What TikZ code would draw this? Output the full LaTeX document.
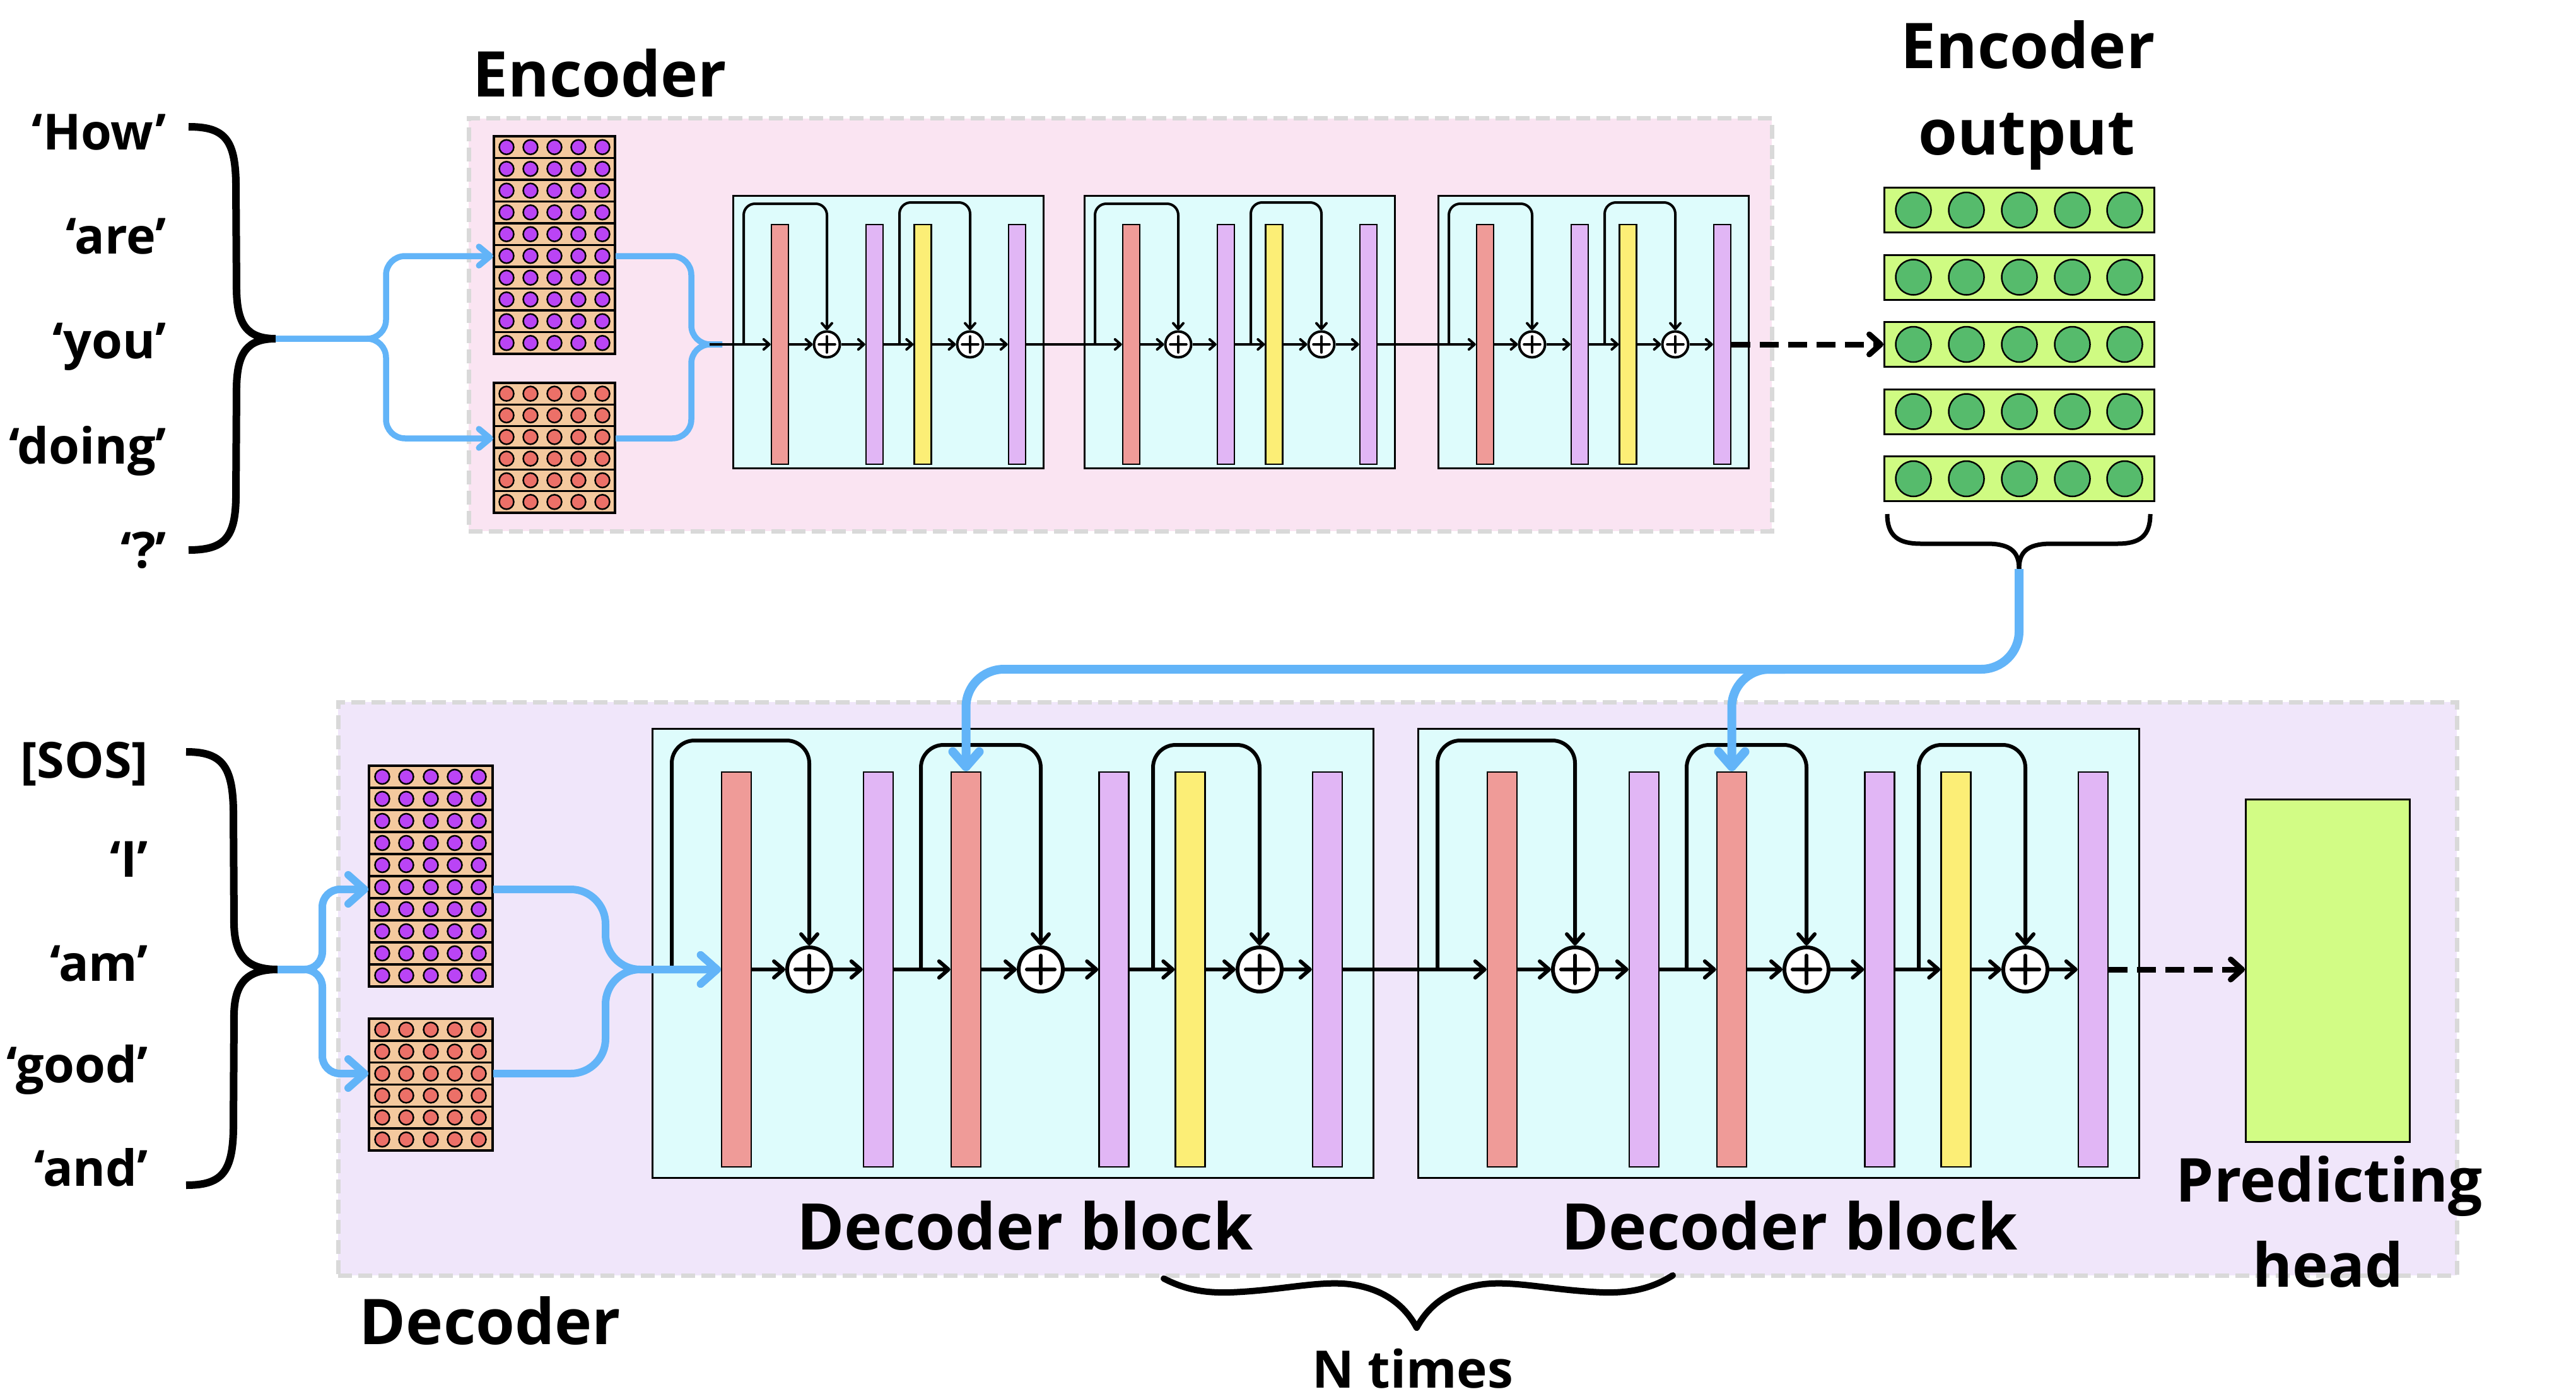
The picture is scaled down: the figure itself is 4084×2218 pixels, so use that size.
\documentclass[tikz,border=0pt]{standalone}
\usepackage{fontspec}
\setmainfont{Open Sans}
\usetikzlibrary{arrows.meta}
\definecolor{encbg}{HTML}{FAE4F2}
\definecolor{decbg}{HTML}{F0E6FA}
\definecolor{dashgray}{HTML}{D9D9D9}
\definecolor{blkbg}{HTML}{DEFCFC}
\definecolor{cred}{HTML}{EF9B98}
\definecolor{cpurp}{HTML}{E1B6F5}
\definecolor{cyel}{HTML}{FCEE76}
\definecolor{ctan}{HTML}{F4C99E}
\definecolor{pdot}{HTML}{BA44F5}
\definecolor{rdot}{HTML}{EC7068}
\definecolor{grow}{HTML}{CFFB82}
\definecolor{gdot}{HTML}{56BB6C}
\definecolor{phead}{HTML}{D2FC85}
\definecolor{cblue}{HTML}{62B4F8}
\tikzset{
  bgbox/.style={draw=dashgray, line width=7pt, dash pattern=on 22pt off 10pt, inner sep=0pt},
  stackpos/.style={draw=none, inner sep=0pt},
  eblk/.style={draw=black, fill=blkbg, line width=2.5pt, minimum width=492pt, minimum height=432pt, inner sep=0pt},
  dblk/.style={draw=black, fill=blkbg, line width=3pt, minimum width=1143pt, minimum height=712pt, inner sep=0pt},
  ebar/.style={draw=black, line width=2.5pt, minimum width=27pt, minimum height=380pt, inner sep=0pt},
  dbar/.style={draw=black, line width=2.5pt, minimum width=47pt, minimum height=626pt, inner sep=0pt},
  eplus/.style={circle, draw=black, fill=white, line width=4pt, minimum size=41pt, inner sep=0pt},
  dplus/.style={circle, draw=black, fill=white, line width=6pt, minimum size=70pt, inner sep=0pt},
  ecross/.style={line width=3.5pt, line cap=round},
  dcross/.style={line width=6pt, line cap=round},
  earr/.style={line width=4pt, -{Straight Barb[length=9pt,width=16pt,round]}},
  darr/.style={line width=6pt, -{Straight Barb[length=15pt,width=26pt,round]}},
  eloop/.style={earr, rounded corners=18pt},
  dloop/.style={darr, rounded corners=36pt},
  edash/.style={line width=9pt, dash pattern=on 30pt off 15pt, -{Straight Barb[length=18pt,width=32pt,round]}},
  blueE/.style={draw=cblue, line width=9.5pt, rounded corners=30pt},
  blueEa/.style={blueE, -{Straight Barb[length=18pt,width=30pt,round]}},
  blueD/.style={draw=cblue, line width=12pt, rounded corners=28pt},
  blueDa/.style={blueD, -{Straight Barb[length=26pt,width=46pt,round]}},
  blueT/.style={draw=cblue, line width=14pt, rounded corners=60pt, -{Straight Barb[length=24pt,width=42pt,round]}},
  embrow/.style={draw=black, fill=ctan, line width=3.5pt},
  embdot/.style={draw=black, line width=2.5pt},
  eorow/.style={draw=black, fill=grow, line width=3pt, minimum width=428pt, minimum height=71pt, inner sep=0pt},
  gdotst/.style={draw=black, fill=gdot, line width=2.5pt},
  phbox/.style={draw=black, fill=phead, line width=3pt, minimum width=260pt, minimum height=543pt, inner sep=0pt},
  bigbrace/.style={line width=12pt},
  lbl/.style={font=\fontsize{100pt}{120pt}\selectfont\bfseries, inner sep=0pt, anchor=base},
  blbl/.style={font=\fontsize{102pt}{120pt}\selectfont\bfseries, inner sep=0pt, anchor=base},
  ntl/.style={font=\fontsize{82pt}{100pt}\selectfont\bfseries, inner sep=0pt, anchor=base},
  phl/.style={font=\fontsize{96pt}{110pt}\selectfont\bfseries, inner sep=0pt, anchor=base},
  word/.style={font=\fontsize{79pt}{90pt}\selectfont\bfseries, inner sep=0pt, anchor=base east}
}
% #1 left x, #2 top y, #3 rows, #4 row height, #5 width, #6 dot colour, #7 dot offsets
\newcommand\embrows[7]{%
  \foreach \i in {1,...,#3}{%
    \draw[embrow] (#1,{#2+(\i-1)*#4}) rectangle ({#1+#5},{#2+\i*#4});
    \foreach \dx in {#7}{\draw[embdot,fill=#6] ({#1+\dx},{#2+(\i-0.5)*#4}) circle[radius=11.5];}
  }}
\newcommand\encblock[2]{%
  \node[eblk] (#1) at ({#2+247.5},526.5) {};
  \node[ebar,fill=cred]  (#1r) at ({#2+75.5},546) {};
  \node[ebar,fill=cpurp] (#1a) at ({#2+225.5},546) {};
  \node[ebar,fill=cyel]  (#1y) at ({#2+302},546) {};
  \node[ebar,fill=cpurp] (#1b) at ({#2+451.5},546) {};
  \node[eplus] (#1p) at ({#2+150},546) {};
  \node[eplus] (#1q) at ({#2+377},546) {};
  \foreach \n in {p,q}{%
    \draw[ecross] ([xshift=-13pt]#1\n.center) -- ([xshift=13pt]#1\n.center);
    \draw[ecross] ([yshift=-13pt]#1\n.center) -- ([yshift=13pt]#1\n.center);}
  \coordinate (#1k1) at ({#2+18},546);
  \coordinate (#1k2) at ({#2+265},546);
  \draw[eloop] (#1k1) -- ({#2+18},323) -- ({#2+150},323) -- (#1p.north);
  \draw[eloop] (#1k2) -- ({#2+265},321) -- ({#2+377},321) -- (#1q.north);
  \draw[earr] (#1r.east) -- (#1p.west);
  \draw[earr] (#1p.east) -- (#1a.west);
  \draw[earr] (#1a.east) -- (#1y.west);
  \draw[earr] (#1y.east) -- (#1q.west);
  \draw[earr] (#1q.east) -- (#1b.west);
}
\newcommand\decblock[2]{%
  \node[dblk] (#1) at ({#2+573},1511.5) {};
  \node[dbar,fill=cred]  (#1r) at ({#2+134.5},1537) {};
  \node[dbar,fill=cpurp] (#1a) at ({#2+359.5},1537) {};
  \node[dbar,fill=cred]  (#1s) at ({#2+498.5},1537) {};
  \node[dbar,fill=cpurp] (#1b) at ({#2+733},1537) {};
  \node[dbar,fill=cyel]  (#1y) at ({#2+854},1537) {};
  \node[dbar,fill=cpurp] (#1c) at ({#2+1071.5},1537) {};
  \node[dplus] (#1p) at ({#2+250},1537) {};
  \node[dplus] (#1q) at ({#2+617},1537) {};
  \node[dplus] (#1u) at ({#2+964},1537) {};
  \foreach \n in {p,q,u}{%
    \draw[dcross] ([xshift=-22pt]#1\n.center) -- ([xshift=22pt]#1\n.center);
    \draw[dcross] ([yshift=-22pt]#1\n.center) -- ([yshift=22pt]#1\n.center);}
  \coordinate (#1k1) at ({#2+32},1537);
  \coordinate (#1k2) at ({#2+427},1537);
  \coordinate (#1k3) at ({#2+795},1537);
  \draw[dloop] (#1k1) -- ({#2+32},1174) -- ({#2+250},1174) -- (#1p.north);
  \draw[dloop] (#1k2) -- ({#2+427},1181) -- ({#2+617},1181) -- (#1q.north);
  \draw[dloop] (#1k3) -- ({#2+795},1181) -- ({#2+964},1181) -- (#1u.north);
  \draw[darr] (#1r.east) -- (#1p.west);
  \draw[darr] (#1p.east) -- (#1a.west);
  \draw[darr] (#1a.east) -- (#1s.west);
  \draw[darr] (#1s.east) -- (#1q.west);
  \draw[darr] (#1q.east) -- (#1b.west);
  \draw[darr] (#1b.east) -- (#1y.west);
  \draw[darr] (#1y.east) -- (#1u.west);
  \draw[darr] (#1u.east) -- (#1c.west);
}
\begin{document}
\begin{tikzpicture}[x=1pt,y=-1pt]
\useasboundingbox (0,0) rectangle (4084,2218);
\fill[white] (0,0) rectangle (4084,2218);
% background boxes
\node[bgbox, fill=encbg, minimum width=2066pt, minimum height=654pt] (encbox) at (1776,515) {};
\node[bgbox, fill=decbg, minimum width=3359pt, minimum height=909pt] (decbox) at (2215.5,1567.5) {};
% embedding stacks
\node[stackpos, minimum width=192pt, minimum height=345pt] (encpos) at (879,388.5) {};
\node[stackpos, minimum width=192pt, minimum height=206pt] (encemb) at (879,710) {};
\node[stackpos, minimum width=196pt, minimum height=350pt] (decpos) at (683,1389) {};
\node[stackpos, minimum width=196pt, minimum height=209pt] (decemb) at (683,1719.5) {};
\embrows{783}{216}{10}{34.5}{192}{pdot}{20,58,96,134,172}
\embrows{783}{607}{6}{34.33}{192}{rdot}{20,58,96,134,172}
\embrows{585}{1214}{10}{35}{196}{pdot}{21,59,98,136,174}
\embrows{585}{1615}{6}{34.83}{196}{rdot}{21,59,98,136,174}
\coordinate (ein1) at (782,406);
\coordinate (ein2) at (782,695);
\coordinate (eout1) at (976,406);
\coordinate (eout2) at (976,695);
\coordinate (emerge) at (1125,546);
\coordinate (din1) at (584,1410);
\coordinate (din2) at (584,1702);
\coordinate (dout1) at (782,1410);
\coordinate (dout2) at (782,1702);
% encoder blue merge
\draw[blueE] (eout1) -- (1096,406) -- (1096,546) -- (1145,546);
\draw[blueE] (eout2) -- (1096,695) -- (1096,546) -- (1145,546);
% encoder blocks
\encblock{e1}{1161}
\encblock{e2}{1718}
\encblock{e3}{2279}
\draw[earr] (emerge) -- (e1r.west);
\draw[earr] (e1b.east) -- (e2r.west);
\draw[earr] (e2b.east) -- (e3r.west);
% encoder output
\foreach \k/\yy in {1/333,2/439.5,3/546,4/652.5,5/759}{%
  \node[eorow] (eo\k) at (3201.5,\yy) {};
  \foreach \dx in {-168,-84,0,84,167}{\draw[gdotst] ({3201.5+\dx},\yy) circle[radius=28];}
}
\draw[edash] (e3b.east) -- (e3b.east -| eo3.west);
\coordinate (eotip) at (3201,902);
\draw[line width=7pt] (2992,815) .. controls (2992,850) and (3010,862) .. (3045,862) -- (3150,862) .. controls (3190,862) and (3201,877) .. (eotip);
\draw[line width=7pt] (eotip) .. controls (3201,877) and (3212,862) .. (3252,862) -- (3357,862) .. controls (3392,862) and (3409,850) .. (3409,815);
% decoder blocks
\decblock{d1}{1033}
\decblock{d2}{2247}
\draw[darr] (d1c.east) -- (d2r.west);
% predicting head
\node[phbox] (ph) at (3690.5,1539) {};
\draw[edash] (d2c.east) -- (d2c.east -| ph.west);
% left braces
\coordinate (ebt) at (437,537);
\coordinate (dbt) at (440,1537);
\draw[bigbrace] (299,201) .. controls (355,201) and (373,220) .. (374,290) -- (375,460) .. controls (376,515) and (392,537) .. (ebt);
\draw[bigbrace] (ebt) .. controls (392,537) and (376,559) .. (375,614) -- (374,790) .. controls (373,853) and (355,872) .. (299,872);
\draw[bigbrace] (295,1192) .. controls (350,1192) and (369,1212) .. (370,1285) -- (371,1465) .. controls (372,1516) and (392,1537) .. (dbt);
\draw[bigbrace] (dbt) .. controls (392,1537) and (372,1558) .. (371,1608) -- (370,1790) .. controls (369,1860) and (350,1879) .. (295,1879);
% blue splits
\draw[blueEa] (ebt) -- (612,537) -- (612,406) -- (ein1);
\draw[blueEa] (ebt) -- (612,537) -- (612,695) -- (ein2);
\draw[blueDa] (dbt) -- (511,1537) -- (511,1410) -- (din1);
\draw[blueDa] (dbt) -- (511,1537) -- (511,1702) -- (din2);
\draw[blueDa, rounded corners=55pt] (dout1) -- (960,1410) -- (960,1537) -- (d1r.west);
\draw[blueDa, rounded corners=55pt] (dout2) -- (960,1702) -- (960,1537) -- (d1r.west);
% encoder output to decoders
\coordinate (bh) at (3201,1061);
\coordinate (bbr) at (2830,1061);
\draw[blueT] (eotip) -- (bh) -- (d1s.north |- bh) -- (d1s.north);
\draw[blueT] (bbr) -- (d2s.north |- bbr) -- (d2s.north);
% N times brace
\coordinate (ntip) at (2246,2105);
\draw[line width=10pt, line cap=round] (1845,2027) .. controls (1880,2045) and (1910,2050) .. (1950,2049) .. controls (2030,2046) and (2090,2030) .. (2140,2036) .. controls (2200,2044) and (2230,2075) .. (ntip);
\draw[line width=10pt, line cap=round] (ntip) .. controls (2262,2075) and (2292,2044) .. (2352,2036) .. controls (2402,2030) and (2462,2046) .. (2542,2049) .. controls (2582,2050) and (2617,2044) .. (2652,2022);
% texts
\node[lbl] (enct) at (951,154) {Encoder};
\node[lbl] (eot1) at (3215,109) {Encoder};
\node[lbl] (eot2) at (3213,246) {output};
\node[lbl] (dect) at (777,2131) {Decoder};
\node[blbl] (db1t) at (1625,1981) {Decoder block};
\node[blbl] (db2t) at (2837,1981) {Decoder block};
\node[ntl] (ntt) at (2240,2200) {N times};
\node[phl] (pht1) at (3693,1905) {Predicting};
\node[phl] (pht2) at (3691,2040) {head};
\node[word] (w1) at (264,238) {‘How’};
\node[word] (w2) at (264,402) {‘are’};
\node[word] (w3) at (264,568) {‘you’};
\node[word] (w4) at (264,735) {‘doing’};
\node[word] (w5) at (264,900) {‘?’};
\node[word] (v1) at (235,1233) {[SOS]};
\node[word] (v2) at (235,1390) {‘I’};
\node[word] (v3) at (235,1555) {‘am’};
\node[word] (v4) at (235,1716) {‘good’};
\node[word] (v5) at (235,1880) {‘and’};
\end{tikzpicture}
\end{document}
